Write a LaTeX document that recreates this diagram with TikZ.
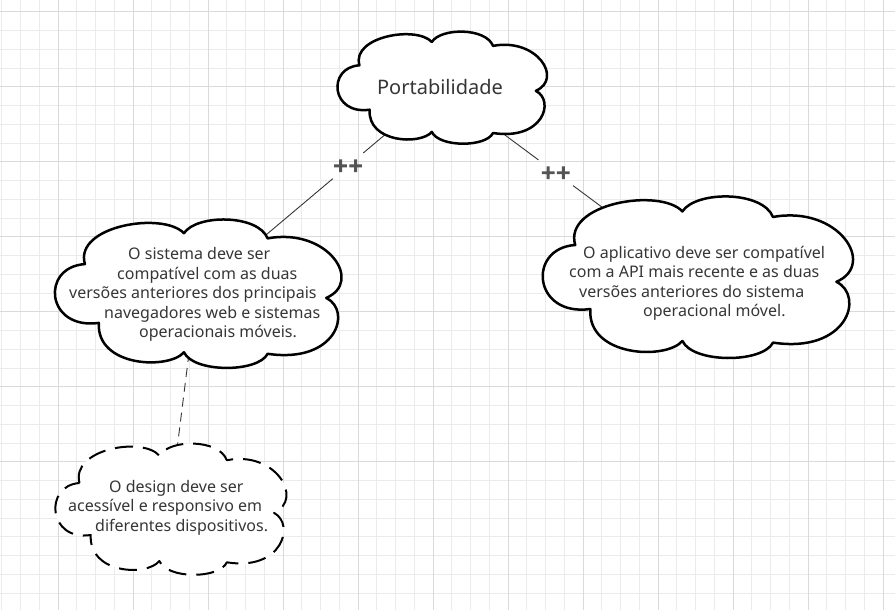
\documentclass[tikz,border=0pt]{standalone}
\usepackage{fontspec}
\setmainfont{Noto Sans}
\newfontfamily\plusfont[FakeBold=8]{DejaVu Sans}
\usetikzlibrary{shapes.geometric,calc}
\definecolor{gridminor}{HTML}{EBEBEB}
\definecolor{gridmajor}{HTML}{DADADA}
\definecolor{ink}{HTML}{363636}
\tikzset{
  cloudpic/.pic={
    \path[pic actions] (-0.40,-0.20)
      .. controls (-0.44,-0.46) and (-0.12,-0.56) .. (-0.045,-0.41)
      .. controls (0.0,-0.54) and (0.22,-0.54) .. (0.255,-0.375)
      .. controls (0.47,-0.45) and (0.60,-0.08) .. (0.465,0.03)
      .. controls (0.56,0.12) and (0.50,0.48) .. (0.255,0.41)
      .. controls (0.22,0.54) and (-0.01,0.54) .. (-0.045,0.40)
      .. controls (-0.10,0.52) and (-0.36,0.50) .. (-0.35,0.20)
      .. controls (-0.54,0.25) and (-0.56,-0.18) .. (-0.40,-0.20) -- cycle;
  }
}

\begin{document}
\begin{tikzpicture}[x=1pt,y=-1pt,
  bubble/.style={draw=black,fill=white,line width=2.5pt,line join=round},
  spot/.style={ellipse,inner sep=0pt},
  bubbletext/.style={align=left,anchor=west,text=ink,inner sep=0pt,
    font=\fontsize{16}{19.5}\selectfont},
  link/.style={draw=ink,line width=0.9pt},
  plus/.style={text=ink!85,inner xsep=2pt,inner ysep=7pt,font=\plusfont\fontsize{18}{18}\selectfont}]
\useasboundingbox (0,0) rectangle (895,610);
\fill[white] (0,0) rectangle (895,610);
% grid
\foreach \k [evaluate=\k as \gx using 1.75+18.75*\k] in {0,...,47}
  \draw[gridminor,line width=0.8pt] (\gx,0) -- (\gx,610);
\foreach \k [evaluate=\k as \gy using 11.7+18.75*\k] in {-1,...,31}
  \draw[gridminor,line width=0.8pt] (0,\gy) -- (895,\gy);
\foreach \k in {0,...,11}
  \draw[gridmajor,line width=1pt] ({58+75*\k},0) -- ({58+75*\k},610);
\foreach \k in {0,...,6}
  \draw[gridmajor,line width=1pt] (0,{11.7+75*\k}) -- (895,{11.7+75*\k});

% cloud places
\node[spot,minimum width=204pt,minimum height=111pt] (port) at (441,87.5) {};
\node[spot,minimum width=279pt,minimum height=147pt] (sistema) at (196.5,293.5) {};
\node[spot,minimum width=302pt,minimum height=160pt] (aplicativo) at (696,277) {};
\node[spot,minimum width=225pt,minimum height=130pt] (design) at (169.5,509) {};
\node[plus] (plusL) at ($(port.center)!0.38!(sistema.center)$) {++};
\node[plus] (plusR) at ($(port.center)!0.45!(aplicativo.center)$) {++};

% links (the clouds cover their ends)
\draw[link] (port.center) -- (plusL) -- (sistema.center);
\draw[link] (port.center) -- (plusR) -- (aplicativo.center);
\draw[link,dash pattern=on 9pt off 6pt] (sistema.center) -- (design.center);

% clouds
\pic[bubble,xscale=204,yscale=111] at (port.center) {cloudpic};
\pic[bubble,xscale=279,yscale=147] at (sistema.center) {cloudpic};
\pic[bubble,xscale=302,yscale=160] at (aplicativo.center) {cloudpic};
\pic[bubble,line width=2pt,dash pattern=on 18pt off 10pt,
  xscale=225,yscale=130] at (design.center) {cloudpic};

% texts
\node[text=ink,font=\fontsize{20}{24}\selectfont] (portTxt) at (440,87) {Portabilidade};
\node[bubbletext] (sistemaTxt) at (69,294.5) {\hspace*{59pt}O sistema deve ser\\
  \hspace*{48pt}compatível com as duas\\versões anteriores dos principais\\
  \hspace*{35pt}navegadores web e sistemas\\\hspace*{70pt}operacionais móveis.};
\node[bubbletext] (aplicativoTxt) at (569,283.5) {\hspace*{14pt}O aplicativo deve ser compatível\\
  com a API mais recente e as duas\\\hspace*{10pt}versões anteriores do sistema\\
  \hspace*{74pt}operacional móvel.};
\node[bubbletext] (designTxt) at (68,507.5) {\hspace*{41pt}O design deve ser\\
  acessível e responsivo em\\\hspace*{27pt}diferentes dispositivos.};
\end{tikzpicture}
\end{document}
